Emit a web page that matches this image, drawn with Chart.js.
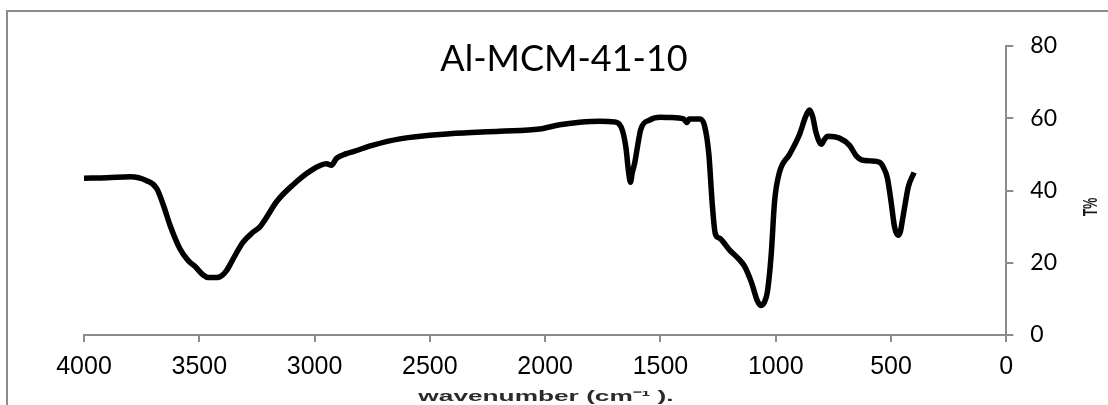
<!DOCTYPE html>
<html>
<head>
<meta charset="utf-8">
<script src="https://cdn.jsdelivr.net/npm/chart.js@4.4.0/dist/chart.umd.min.js"></script>
<style>
    body { margin: 0; background: #ffffff; }
    #divChart { width: 1108px; height: 405px; }
</style>
</head>
<body>
<div id="divChart"><canvas id="chartFtir"></canvas></div>
<script>
// spectrum
var wavenumber = [4000, 3900, 3800, 3728, 3685, 3656, 3627, 3584, 3548, 3519,
    3483, 3461, 3435, 3411, 3382, 3353, 3310, 3266, 3237, 3216,
    3165, 3093, 3021, 2948, 2927, 2905, 2862, 2826, 2750, 2630,
    2414, 2197, 2024, 1937, 1850, 1764, 1700, 1670, 1650, 1638,
    1630, 1622, 1612, 1600, 1585, 1547, 1500, 1460, 1400, 1385,
    1375, 1330, 1309, 1290, 1275, 1262, 1244, 1200, 1160, 1135,
    1105, 1080, 1065, 1050, 1036, 1020, 1005, 984, 940, 897,
    870, 854, 840, 825, 802, 790, 776, 724, 680, 650,
    628, 590, 550, 530, 516, 500, 485, 470, 460, 450,
    442, 425, 400];
var transmittance = [43.4, 43.5, 43.8, 42.7, 40.6, 36.0, 30.4, 23.9, 20.6, 19.0,
    16.6, 15.9, 15.9, 16.1, 17.8, 21.1, 25.7, 28.5, 29.9, 31.8,
    36.9, 41.6, 45.3, 47.4, 47.0, 48.9, 50.2, 50.9, 52.5, 54.3,
    55.7, 56.4, 57.0, 58.2, 58.9, 59.2, 59.0, 57.5, 52.0, 45.0,
    42.3, 45.0, 47.5, 52.0, 57.0, 59.5, 60.3, 60.2, 59.8, 58.8,
    59.8, 59.8, 58.0, 50.0, 36.0, 28.0, 26.8, 23.5, 21.0, 19.0,
    14.5, 9.5, 8.2, 9.0, 12.0, 22.0, 37.0, 45.0, 50.0, 55.5,
    60.5, 62.3, 60.5, 56.0, 52.8, 54.0, 55.0, 54.5, 52.5, 49.5,
    48.5, 48.2, 47.8, 46.0, 43.5, 37.0, 30.0, 27.6, 28.5, 32.0,
    35.0, 41.0, 45.0];
var xTicks = [4000, 3500, 3000, 2500, 2000, 1500, 1000, 500, 0];
var yTicks = [0, 20, 40, 60, 80];
var chartTitle = 'Al-MCM-41-10';
var xTitle = 'wavenumber (cm\u207B\u00B9 ).';
var yTitle = 'T%';

var axisGray = '#8c8c8c';

var points = [];
for (var i = 0; i < wavenumber.length; i++) {
    points.push({ x: wavenumber[i], y: transmittance[i] });
}

// frame, title and axis titles drawn on the canvas
var decorPlugin = {
    id: 'decor',
    beforeDraw: function (chart) {
        var ctx = chart.ctx;
        ctx.save();
        ctx.strokeStyle = axisGray;
        ctx.lineWidth = 2;
        ctx.strokeRect(7, 11, 1200, 500);
        ctx.restore();
    },
    afterDraw: function (chart) {
        var ctx = chart.ctx;
        ctx.save();
        ctx.fillStyle = '#000000';
        ctx.font = '36px Lato';
        ctx.textAlign = 'center';
        ctx.textBaseline = 'middle';
        ctx.fillText(chartTitle, 564, 59);

        // stretched bold x title
        ctx.fillStyle = '#2b2b2b';
        ctx.font = 'bold 15px "Liberation Sans"';
        ctx.translate(546, 397);
        ctx.scale(1.75, 1);
        ctx.fillText(xTitle, 0, 0);
        ctx.restore();

        // squeezed, rotated y title
        ctx.save();
        ctx.fillStyle = '#1a1a1a';
        ctx.font = 'bold 20px "Liberation Sans"';
        ctx.textAlign = 'center';
        ctx.textBaseline = 'middle';
        ctx.translate(1091, 207);
        ctx.rotate(-Math.PI / 2);
        ctx.scale(0.62, 1);
        ctx.fillText(yTitle, 0, 0);
        ctx.restore();
    }
};

var ctx = document.getElementById('chartFtir');
var myChartFtir = new Chart(ctx, {
    type: 'line',
    data: {
        datasets: [{
            label: chartTitle,
            data: points,
            borderColor: '#000000',
            borderWidth: 5.5,
            pointRadius: 0,
            cubicInterpolationMode: 'monotone',
            fill: false
        }]
    },
    options: {
        responsive: true,
        maintainAspectRatio: false,
        animation: false,
        layout: {
            padding: { left: 84, right: 34, top: 46, bottom: 13 }
        },
        plugins: {
            legend: { display: false },
            tooltip: { enabled: false },
            title: { display: false }
        },
        scales: {
            x: {
                type: 'linear',
                reverse: true,
                min: 0,
                max: 4000,
                afterBuildTicks: function (axis) {
                    axis.ticks = xTicks.map(function (v) { return { value: v }; });
                },
                grid: {
                    drawOnChartArea: false,
                    drawTicks: true,
                    tickLength: 7,
                    color: axisGray,
                    lineWidth: 2
                },
                border: { display: true, color: axisGray, width: 2 },
                ticks: {
                    color: '#000000',
                    padding: 10,
                    maxRotation: 0,
                    autoSkip: false,
                    font: { family: '"Liberation Sans"', size: 25 },
                    callback: function (value) { return String(value); }
                }
            },
            y: {
                type: 'linear',
                position: 'right',
                min: 0,
                max: 80,
                afterBuildTicks: function (axis) {
                    axis.ticks = yTicks.map(function (v) { return { value: v }; });
                },
                grid: {
                    drawOnChartArea: false,
                    drawTicks: true,
                    tickLength: 7,
                    color: axisGray,
                    lineWidth: 2
                },
                border: { display: true, color: axisGray, width: 2 },
                ticks: {
                    color: '#000000',
                    padding: 17,
                    font: { family: 'Lato', size: 23 },
                    callback: function (value) { return String(value); }
                }
            }
        }
    },
    plugins: [decorPlugin]
});
</script>
</body>
</html>
